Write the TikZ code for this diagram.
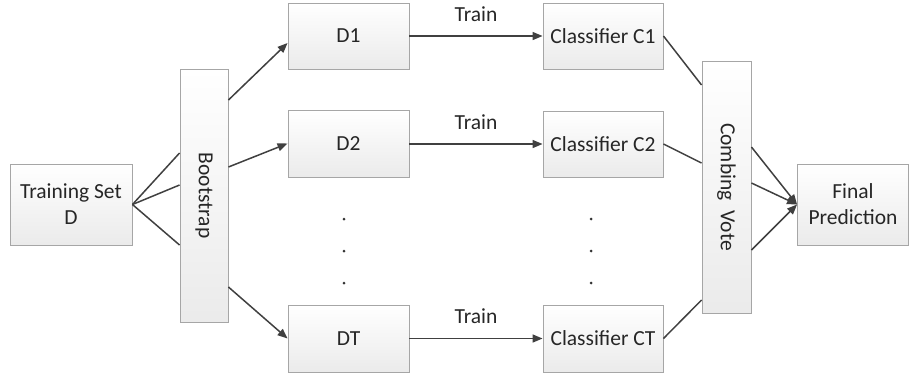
\documentclass[tikz,border=0pt]{standalone}
\usepackage{fontspec}
\setmainfont{Carlito}
\usetikzlibrary{arrows.meta,calc}
\definecolor{boxline}{HTML}{A6A6A6}
\definecolor{conn}{HTML}{404040}
\tikzset{
  box/.style={draw=boxline, line width=0.9pt, top color=white, bottom color=gray!16,
    inner sep=0pt, align=center, font=\fontsize{21.5}{26}\selectfont, text=black!85},
  link/.style={draw=conn, line width=1.5pt},
  arrowlink/.style={link, -{Stealth[length=10pt,width=8pt,inset=0pt]}},
  dotmark/.style={circle, fill=black!80, inner sep=0pt, minimum size=3pt},
  lbl/.style={font=\fontsize{21.5}{26}\selectfont, text=black!85, inner sep=0pt}
}
\begin{document}
\begin{tikzpicture}[x=1pt,y=-1pt]
\useasboundingbox (0,0) rectangle (909,376);

% boxes
\node[box, minimum width=122, minimum height=81] (ts) at (71,204.5) {Training Set\\D};
\node[box, minimum width=48, minimum height=253] (boot) at (204,195.5) {};
\node[lbl, rotate=-90] (bootlbl) at (boot.center) {Bootstrap};

\node[box, minimum width=121, minimum height=66] (d1) at (348.5,36) {D1};
\node[box, minimum width=121, minimum height=67] (d2) at (348.5,143.5) {D2};
\node[box, minimum width=121, minimum height=67] (dt) at (348.5,338.5) {DT};

\node[box, minimum width=120, minimum height=66] (c1) at (603,36) {Classifier C1};
\node[box, minimum width=120, minimum height=66] (c2) at (603,144) {Classifier C2};
\node[box, minimum width=120, minimum height=67] (ct) at (603,338.5) {Classifier CT};

\node[box, minimum width=49, minimum height=252] (vote) at (726.5,187) {};
\node[lbl, rotate=-90] (votelbl) at (vote.center) {Combing\ \ Vote};

\node[box, minimum width=111, minimum height=81] (fp) at (853,204.5) {Final\\Prediction};

% ellipsis dots between the second and last rows
\node[dotmark] (ddot1) at (344,219) {};
\node[dotmark] (ddot2) at (344,251) {};
\node[dotmark] (ddot3) at (344,283) {};
\node[dotmark] (cdot1) at (591,219) {};
\node[dotmark] (cdot2) at (591,251) {};
\node[dotmark] (cdot3) at (591,283) {};

% training set into bootstrap
\draw[link] (ts.east) -- ($(boot.west)+(0,-42.5)$);
\draw[link] (ts.east) -- ($(boot.west)+(0,-10.5)$);
\draw[link] (ts.east) -- ($(boot.west)+(0,49.5)$);

% bootstrap samples
\draw[arrowlink] ($(boot.east)+(0,-95.5)$) -- ($(d1.west)+(0,7)$);
\draw[arrowlink] ($(boot.east)+(0,-28.5)$) -- (d2.west);
\draw[arrowlink] ($(boot.east)+(0,91.5)$) -- (dt.west);

% training
\draw[arrowlink] (d1.east) -- node[lbl, above=14pt] (t1) {Train} (c1.west);
\draw[arrowlink] (d2.east |- c2.west) -- node[lbl, above=14pt] (t2) {Train} (c2.west);
\draw[arrowlink] (dt.east) -- node[lbl, above=14pt] (t3) {Train} (ct.west);

% classifiers into the vote
\draw[link] (c1.east) -- ($(vote.west)+(0,-102)$);
\draw[link] (c2.east) -- ($(vote.west)+(0,-24)$);
\draw[link] (ct.east) -- ($(vote.west)+(0,113)$);

% vote to final prediction
\draw[arrowlink] ($(vote.east)+(0,-40)$) -- (fp.west);
\draw[arrowlink] ($(vote.east)+(0,-4)$) -- (fp.west);
\draw[arrowlink] ($(vote.east)+(0,63)$) -- (fp.west);
\end{tikzpicture}
\end{document}
